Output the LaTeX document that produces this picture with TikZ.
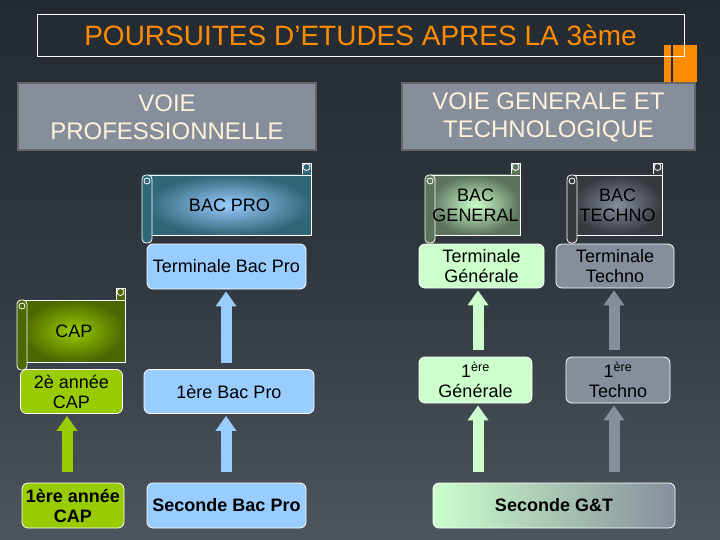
\documentclass[tikz,border=0pt]{standalone}
\usepackage{fontspec}
\setmainfont{Liberation Sans}
\usetikzlibrary{arrows.meta,shadings}
\definecolor{bgtop}{HTML}{232A32}
\definecolor{bgbot}{HTML}{4E555D}
\definecolor{lblue}{HTML}{99CCFF}
\definecolor{lgreen}{HTML}{99CC00}
\definecolor{pgreen}{HTML}{CCFFCC}
\definecolor{lgray}{HTML}{868E9C}
\definecolor{orng}{HTML}{FF8C00}
\definecolor{cream}{HTML}{FFF2D9}
\tikzset{
  box/.style={draw=white, line width=0.8pt, rounded corners=6pt, align=center, inner sep=0pt, font=\fontsize{18}{20}\selectfont},
  voie/.style={draw=gray!80!black, line width=2pt, fill=lgray, text=cream, align=center, font=\fontsize{24}{28}\selectfont},
  up/.style={-{Triangle[width=20pt,length=15pt]}, line width=11pt, shorten >=2pt, shorten <=2pt},
  scrl/.style={draw=white, line width=0.8pt},
}
% \scroll{name}{x1}{y1}{x2}{y2}{inner}{outer}{text}
\newcommand{\myscroll}[8]{%
  \fill[#7] (#4-9,#3-12) rectangle (#4,#3);
  \draw[scrl] (#4-9,#3) -- (#4-9,#3-12) -- (#4,#3-12) -- (#4,#3);
  \draw[scrl] (#4-4.5,#3-8) circle (3.5);
  \shade[inner color=#6, outer color=#7, scrl] (#2+5,#3) rectangle (#4,#5);
  \draw[scrl, fill=#7, rounded corners=4pt] (#2,#3) rectangle (#2+10,#5+8);
  \draw[scrl] (#2+5,#3+6) circle (3);
  \node[align=center, font=\fontsize{18}{20}\selectfont] (#1) at ({(#2+#4)/2+3},{(#3+#5)/2}) {#8};
}
\begin{document}
\begin{tikzpicture}[x=1pt,y=-1pt]
\shade[top color=bgtop, bottom color=bgbot, middle color=bgtop!70!bgbot] (0,0) rectangle (720,540);
\useasboundingbox (0,0) rectangle (720,540);
% title
\fill[orng] (664,45) rectangle (697,82);
\draw[bgtop, line width=1.5pt] (672,45) -- (672,82);
\node[draw=white, line width=0.7pt, minimum width=647pt, minimum height=42pt, text=orng, font=\fontsize{28}{30}\selectfont] (title) at (360.5,35) {POURSUITES D’ETUDES APRES LA 3ème};
\node[voie, minimum width=298pt, minimum height=67pt] (vp) at (167,117) {VOIE\\PROFESSIONNELLE};
\node[voie, minimum width=293pt, minimum height=67pt] (vg) at (548.5,117) {VOIE GENERALE ET\\TECHNOLOGIQUE};
% scrolls
\myscroll{bacpro}{142}{175}{311}{235}{lblue}{lblue!45!black!70!teal}{BAC PRO}
\myscroll{bacgen}{425}{175}{520}{235}{pgreen}{pgreen!45!black}{BAC\\GENERAL}
\myscroll{bactech}{567}{175}{662}{235}{lgray}{lgray!40!black}{BAC\\TECHNO}
\myscroll{cap}{17}{300}{125}{362}{lgreen}{lgreen!50!black}{CAP}
% boxes
\node[box, fill=lblue, minimum width=159pt, minimum height=45pt] (tbp) at (226.5,266.5) {Terminale Bac Pro};
\node[box, fill=pgreen, minimum width=125pt, minimum height=44pt] (tg) at (481.5,266) {Terminale\\Générale};
\node[box, fill=lgray, minimum width=118pt, minimum height=44pt] (tt) at (615,266) {Terminale\\Techno};
\node[box, fill=lgreen, minimum width=102pt, minimum height=44pt] (c2) at (71.5,391.5) {2è année\\CAP};
\node[box, fill=lblue, minimum width=170pt, minimum height=44pt] (p1) at (229,391.5) {1ère Bac Pro};
\node[box, fill=pgreen, minimum width=113pt, minimum height=46pt] (g1) at (475.5,380) {1\textsuperscript{ère}\\Générale};
\node[box, fill=lgray, minimum width=104pt, minimum height=46pt] (t1) at (618,380) {1\textsuperscript{ère}\\Techno};
\node[box, fill=lgreen, minimum width=102pt, minimum height=45pt, font=\fontsize{18}{20}\selectfont\bfseries] (c1) at (73,505.5) {1ère année\\CAP};
\node[box, fill=lblue, minimum width=159pt, minimum height=45pt, font=\fontsize{18}{20}\selectfont\bfseries] (p2) at (226.5,505.5) {Seconde Bac Pro};
\node[box, left color=pgreen, right color=lgray, middle color=pgreen!50!lgray, minimum width=242pt, minimum height=45pt, font=\fontsize{18}{20}\selectfont\bfseries] (sgt) at (554,505.5) {Seconde G\&T};
% arrows
\coordinate (a1) at (67,474); \coordinate (a2) at (226,474);
\coordinate (a3) at (478,474); \coordinate (a4) at (614,474);
\coordinate (b1) at (226,365); \coordinate (b3) at (478,352); \coordinate (b4) at (614,352);
\draw[up, lgreen] (a1) -- (c2.south -| a1);
\draw[up, lblue] (a2) -- (p1.south -| a2);
\draw[up, pgreen] (a3) -- (g1.south -| a3);
\draw[up, lgray] (a4) -- (t1.south -| a4);
\draw[up, lblue] (b1) -- (tbp.south -| b1);
\draw[up, pgreen] (b3) -- (tg.south -| b3);
\draw[up, lgray] (b4) -- (tt.south -| b4);
\end{tikzpicture}
\end{document}
